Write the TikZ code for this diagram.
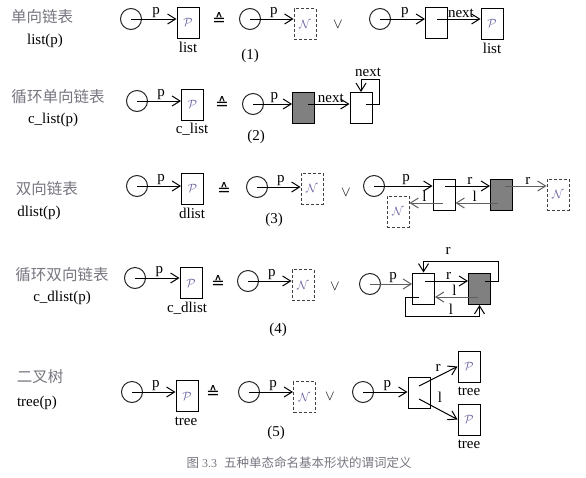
\documentclass[tikz,border=0pt]{standalone}
\usepackage{fontspec}
\setmainfont{Liberation Serif}
\newfontfamily\cjk{Noto Sans CJK SC}
\newfontfamily\symf{DejaVu Sans}
\usetikzlibrary{arrows.meta}
\definecolor{lblgray}{RGB}{118,118,128}
\definecolor{pcol}{RGB}{105,100,160}
\definecolor{boxgray}{RGB}{128,128,128}
\definecolor{lngray}{RGB}{95,95,95}
\newcommand\Pc{\textcolor{pcol}{\fontsize{12}{12}\selectfont$\mathcal{P}$}}
\newcommand\Nc{\textcolor{pcol}{\fontsize{12}{12}\selectfont$\mathcal{N}$}}
\tikzset{
  cir/.style={circle,draw=black!85,minimum size=21pt,inner sep=0pt},
  bx/.style={rectangle,draw,minimum width=22pt,minimum height=31pt,inner sep=0pt},
  dbx/.style={bx,draw=black!75,dash pattern=on 3pt off 2pt},
  gbx/.style={bx,fill=boxgray},
  tx/.style={inner sep=0pt,font=\fontsize{15}{18}\selectfont},
  cn/.style={inner sep=0pt,text=lblgray,font=\cjk\fontsize{15.5}{18}\selectfont},
  al/.style={above,inner sep=0.6pt,font=\fontsize{15}{18}\selectfont,pos=0.55},
  arr/.style={-{Straight Barb[length=8pt,width=10pt]}},
  garr/.style={arr,draw=lngray},
  eqs/.style={inner sep=0pt,font=\symf\fontsize{16}{18}\selectfont},
}
\begin{document}
\begin{tikzpicture}[x=1pt,y=-1pt,line width=1pt]
\useasboundingbox (0,0) rectangle (586,477);
% ---------- row 1
\node[cn] (h1) at (42,17) {单向链表};
\node[tx] (f1) at (45,41) {list(p)};
\node[cir] (c11) at (131,19) {};
\node[bx] (b11) at (188,22.5) {\Pc};
\node[tx] (l11) at (188,47) {list};
\draw[arr] (c11.center) -- node[al]{p} (c11.center -| b11.west);
\node[eqs] (e1) at (219,19) {≙};
\node[cir] (c12) at (250,19) {};
\node[dbx] (n11) at (305,24) {\Nc};
\draw[arr] (c12.center) -- node[al]{p} (c12.center -| n11.west);
\node[tx] (o1) at (338,24) {$\vee$};
\node[cir] (c13) at (380,19) {};
\node[bx] (b12) at (436.5,22.5) {};
\node[bx] (b13) at (492,23.5) {\Pc};
\node[tx] (l12) at (492,48) {list};
\draw[arr] (c13.center) -- node[al]{p} (c13.center -| b12.west);
\coordinate (s12) at (437,19);
\draw[arr] (s12) -- node[al]{next} (s12 -| b13.west);
\node[tx] (k1) at (250,56) {(1)};
% ---------- row 2
\node[cn] (h2) at (58,97) {循环单向链表};
\node[tx] (f2) at (53,120) {c\_list(p)};
\node[cir] (c21) at (137,101) {};
\node[bx] (b21) at (192.5,104.5) {\Pc};
\node[tx] (l21) at (192,129) {c\_list};
\draw[arr] (c21.center) -- node[al]{p} (c21.center -| b21.west);
\node[eqs] (e2) at (222,103) {≙};
\node[cir] (c22) at (253,104) {};
\node[gbx] (g21) at (303.5,108) {};
\node[bx] (b22) at (361,108) {};
\draw[arr] (c22.center) -- node[al]{p} (c22.center -| g21.west);
\coordinate (s21) at (308,104);
\draw[arr] (s21) -- node[al]{next} (s21 -| b22.west);
\coordinate (s22) at (366,104);
\coordinate (q22) at (379,79);
\draw[arr] (s22) -| (q22) -| (b22.north);
\node[tx] (m22) at (368,72) {next};
\node[tx] (k2) at (256,137) {(2)};
% ---------- row 3
\node[cn] (h3) at (47,189) {双向链表};
\node[tx] (f3) at (39,213) {dlist(p)};
\node[cir] (c31) at (137,186) {};
\node[bx] (b31) at (192.5,188.5) {\Pc};
\node[tx] (l31) at (192,213) {dlist};
\draw[arr] (c31.center) -- node[al]{p} (c31.center -| b31.west);
\node[eqs] (e3) at (224,189) {≙};
\node[cir] (c32) at (257,187) {};
\node[dbx] (n31) at (312,188.5) {\Nc};
\draw[arr] (c32.center) -- node[al]{p} (c32.center -| n31.west);
\node[tx] (o3) at (346,192) {$\vee$};
\node[tx] (k3) at (274,220) {(3)};
\node[cir] (c33) at (374,186) {};
\node[bx] (b32) at (444,194.5) {};
\node[gbx] (g31) at (501.5,194.5) {};
\node[dbx] (n32) at (398,211.5) {\Nc};
\node[dbx] (n33) at (558,194.5) {\Nc};
\draw[arr] (c33.center) -- node[al]{p} (c33.center -| b32.west);
\coordinate (s31) at (445,186);
\draw[arr] (s31) -- node[al]{r} (s31 -| g31.west);
\coordinate (s32) at (498,203);
\draw[garr] (s32) -- node[al,text=black]{l} (s32 -| b32.east);
\coordinate (s33) at (443,203);
\draw[garr] (s33) -- node[al,text=black]{l} (s33 -| n32.east);
\coordinate (s34) at (505,186);
\draw[garr] (s34) -- node[al,text=black]{r} (s34 -| n33.west);
% ---------- row 4
\node[cn] (h4) at (62,275) {循环双向链表};
\node[tx] (f4) at (62,298) {c\_dlist(p)};
\node[cir] (c41) at (135,278) {};
\node[bx] (b41) at (191,283) {\Pc};
\node[tx] (l41) at (187,308) {c\_dlist};
\draw[arr] (c41.center) -- node[al]{p} (c41.center -| b41.west);
\node[eqs] (e4) at (218,282) {≙};
\node[cir] (c42) at (248,281) {};
\node[dbx] (n41) at (303,285) {\Nc};
\draw[arr] (c42.center) -- node[al]{p} (c42.center -| n41.west);
\node[tx] (o4) at (335,286) {$\vee$};
\node[tx] (k4) at (278,330) {(4)};
\node[cir] (c43) at (370,284) {};
\node[bx] (b42) at (423.5,288.5) {};
\node[gbx] (g41) at (479.5,289) {};
\draw[garr] (c43.center) -- node[al,text=black]{p} (c43.center -| b42.west);
\coordinate (s41) at (425,281);
\draw[arr] (s41) -- node[al]{r} (s41 -| g41.west);
\coordinate (s42) at (478,297);
\draw[garr] (s42) -- node[al,text=black]{l} (s42 -| b42.east);
\coordinate (s43) at (485,281);
\coordinate (q43) at (498,261);
\draw[arr] (s43) -| (q43) -| (b42.north);
\node[tx] (m43) at (448,251) {r};
\coordinate (s44) at (419,297);
\coordinate (q44) at (405,316);
\draw[arr] (s44) -| (q44) -| (g41.south);
\node[tx] (m44) at (451,309) {l};
% ---------- row 5
\node[cn] (h5) at (40,377) {二叉树};
\node[tx] (f5) at (37,403) {tree(p)};
\node[cir] (c51) at (132,392) {};
\node[bx] (b51) at (187,396) {\Pc};
\node[tx] (l51) at (186,421) {tree};
\draw[arr] (c51.center) -- node[al]{p} (c51.center -| b51.west);
\node[eqs] (e5) at (213,392) {≙};
\node[cir] (c52) at (249,392) {};
\node[dbx] (n51) at (304.5,397) {\Nc};
\draw[arr] (c52.center) -- node[al]{p} (c52.center -| n51.west);
\node[tx] (o5) at (330,396) {$\vee$};
\node[tx] (k5) at (276,433) {(5)};
\node[cir] (c53) at (363,392) {};
\node[bx] (b52) at (419,393) {};
\node[bx] (b53) at (469,366.5) {\Pc};
\node[tx] (l53) at (469,391) {tree};
\node[bx] (b54) at (469,419.5) {\Pc};
\node[tx] (l54) at (469,444) {tree};
\draw[arr] (c53.center) -- node[al]{p} (c53.center -| b52.west);
\coordinate (s51) at (419,386);
\coordinate (s52) at (419,399);
\draw[arr] (s51) -- (b53.west);
\draw[arr] (s52) -- (b54.west);
\node[tx] (m51) at (438,368) {r};
\node[tx] (m52) at (440,397) {l};
% ---------- caption
\node[inner sep=0pt,text=lblgray,font=\cjk\fontsize{12.5}{14}\selectfont] (cap) at (299,463)
  {图\hspace{3pt}{\rmfamily\fontsize{12}{14}\selectfont 3.3}\hspace{7pt}五种单态命名基本形状的谓词定义};
\end{tikzpicture}
\end{document}
